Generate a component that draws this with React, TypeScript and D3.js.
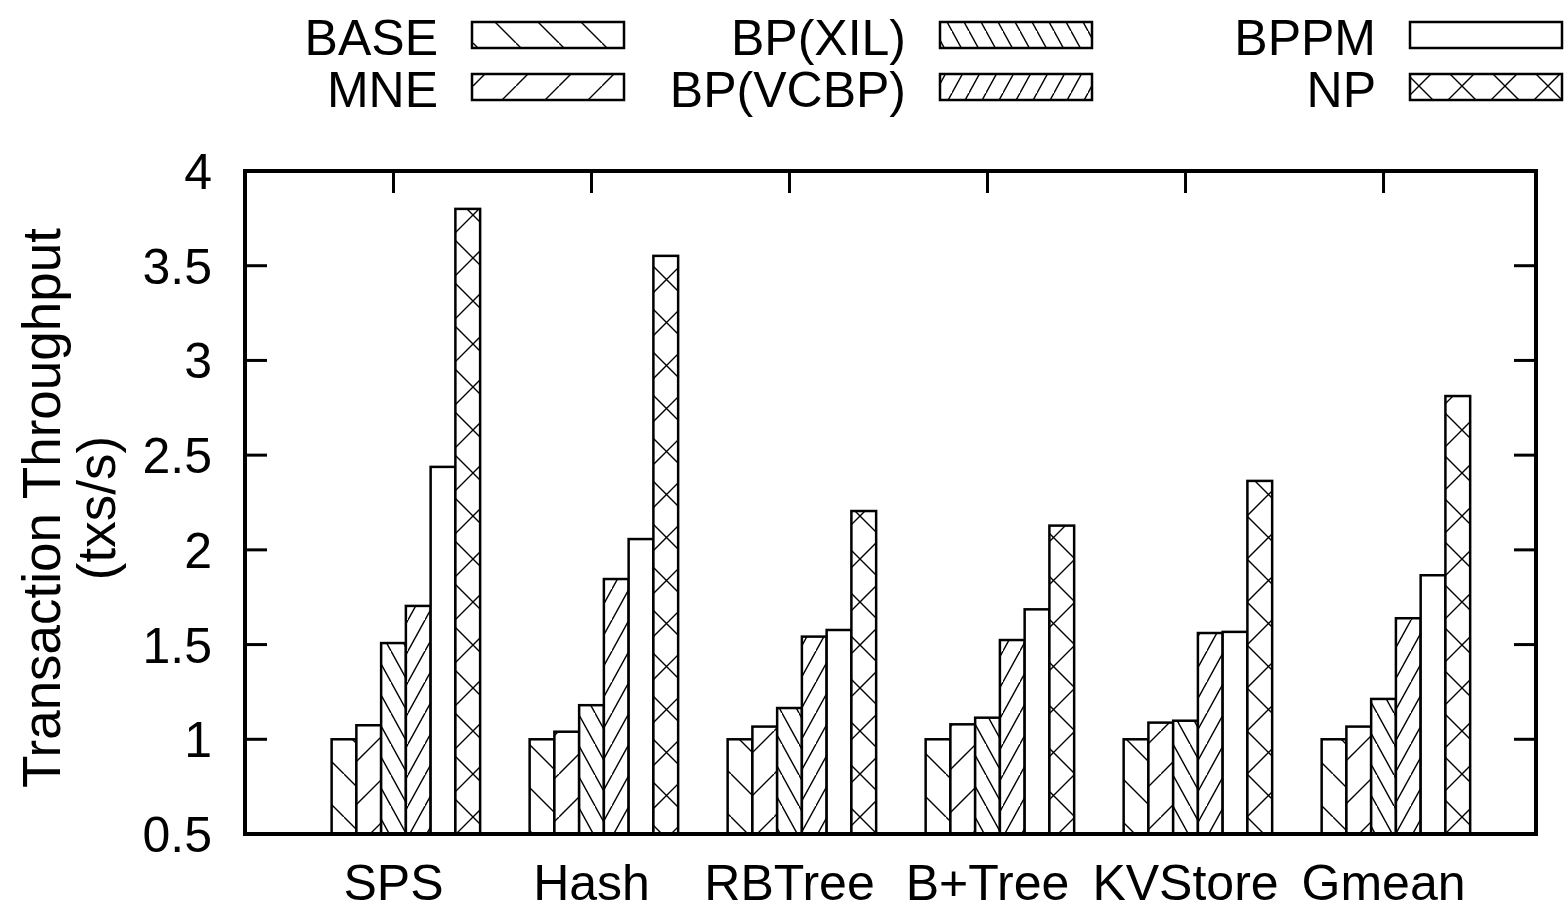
import * as d3 from 'd3';

// benchmarks along the x axis
const categories = ['SPS', 'Hash', 'RBTree', 'B+Tree', 'KVStore', 'Gmean'];
const seriesNames = ['BASE', 'MNE', 'BP(XIL)', 'BP(VCBP)', 'BPPM', 'NP'];

// normalized throughput, one array per series (same order as categories)
const baseVals = [1.0, 1.0, 1.0, 1.0, 1.0, 1.0];
const mneVals = [1.074, 1.04, 1.067, 1.079, 1.088, 1.067];
const xilVals = [1.508, 1.18, 1.165, 1.114, 1.098, 1.213];
const vcbpVals = [1.704, 1.846, 1.542, 1.524, 1.561, 1.639];
const bppmVals = [2.438, 2.057, 1.577, 1.686, 1.567, 1.866];
const npVals = [3.8, 3.552, 2.205, 2.128, 2.364, 2.812];

const yTicks = [0.5, 1, 1.5, 2, 2.5, 3, 3.5, 4];

const seriesValues = [baseVals, mneVals, xilVals, vcbpVals, bppmVals, npVals];
const patternIds = ['p-back', 'p-fwd', 'p-back-steep', 'p-fwd-steep', '', 'p-cross'];

const W = 1568,
	H = 910;
const margin = { left: 245, right: 32, top: 171, bottom: 76 };
const font = 'Liberation Sans, Arial, sans-serif';

// one diagonal per tile; neighbour pieces so the joins are not thin
function backPath(w: number, h: number) {
	return `M0,0L${w},${h}M${-w},0L0,${h}M${w},${-h}L${2 * w},0`;
}
function fwdPath(w: number, h: number) {
	return `M0,${h}L${w},0M${-w},${h}L0,0M${w},${2 * h}L${2 * w},${h}`;
}

export default function App() {
	const innerRight = W - margin.right;
	const innerBottom = H - margin.bottom; // 834

	const xScale = d3.scaleLinear().domain([-0.75, 5.77]).range([margin.left, innerRight]);
	const yScale = d3.scaleLinear().domain([0.5, 4]).range([innerBottom, margin.top]);

	const slot = 0.125; // width of one bar in group units
	const barW = xScale(slot) - xScale(0);

	const fillFor = (k: number) => (patternIds[k] ? `url(#${patternIds[k]})` : 'white');

	const legendCols = [472, 940, 1410];
	const legendRows = [22, 74];

	return (
		<svg width={W} height={H} viewBox={`0 0 ${W} ${H}`} style={{ display: 'block', position: 'absolute', left: 0, top: 0 }}>
			<defs>
				<pattern id="p-back" patternUnits="userSpaceOnUse" width={43} height={43}>
					<path d={backPath(43, 43)} stroke="black" strokeWidth={1.4} fill="none" />
				</pattern>
				<pattern id="p-fwd" patternUnits="userSpaceOnUse" width={43} height={43}>
					<path d={fwdPath(43, 43)} stroke="black" strokeWidth={1.4} fill="none" />
				</pattern>
				<pattern id="p-back-steep" patternUnits="userSpaceOnUse" width={17} height={31}>
					<path d={backPath(17, 31)} stroke="black" strokeWidth={1.4} fill="none" />
				</pattern>
				<pattern id="p-fwd-steep" patternUnits="userSpaceOnUse" width={17} height={31}>
					<path d={fwdPath(17, 31)} stroke="black" strokeWidth={1.4} fill="none" />
				</pattern>
				<pattern id="p-cross" patternUnits="userSpaceOnUse" width={43} height={43}>
					<path d={backPath(43, 43) + fwdPath(43, 43)} stroke="black" strokeWidth={1.4} fill="none" />
				</pattern>
			</defs>
			<rect x={0} y={0} width={W} height={H} fill="white" />

			{/* legend */}
			<g fontFamily={font} fontSize={50}>
				{seriesNames.map((name, k) => {
					const col = Math.floor(k / 2);
					const row = k % 2;
					const bx = legendCols[col];
					const by = legendRows[row];
					return (
						<g key={name}>
							<text x={bx - 34} y={by + 33} textAnchor="end">
								{name}
							</text>
							<rect x={bx} y={by} width={152} height={26} fill="white" />
							<rect x={bx} y={by} width={152} height={26} fill={fillFor(k)} stroke="black" strokeWidth={2.5} />
						</g>
					);
				})}
			</g>

			{/* y ticks + labels */}
			<g fontFamily={font} fontSize={50}>
				{yTicks.map((t) => (
					<g key={t} transform={`translate(0, ${yScale(t)})`}>
						{t > 0.5 && t < 4 && (
							<>
								<line x1={margin.left} x2={margin.left + 22} stroke="black" strokeWidth={3} />
								<line x1={innerRight - 22} x2={innerRight} stroke="black" strokeWidth={3} />
							</>
						)}
						<text x={212} y={18} textAnchor="end">
							{String(t)}
						</text>
					</g>
				))}
			</g>

			{/* x ticks (top mirror) + labels */}
			<g fontFamily={font} fontSize={50}>
				{categories.map((c, i) => (
					<g key={c} transform={`translate(${xScale(i)}, 0)`}>
						<line y1={margin.top} y2={margin.top + 22} stroke="black" strokeWidth={3} />
						<line y1={innerBottom} y2={innerBottom - 22} stroke="black" strokeWidth={3} />
						<text y={900} textAnchor="middle">
							{c}
						</text>
					</g>
				))}
			</g>

			{/* bars */}
			<g>
				{categories.map((c, i) =>
					seriesValues.map((vals, k) => {
						const x0 = xScale(i + (k - 2) * slot - slot / 2);
						const y0 = yScale(vals[i]);
						return (
							<g key={`${c}-${k}`}>
								<rect x={x0} y={y0} width={barW} height={innerBottom - y0} fill="white" />
								<rect
									x={x0}
									y={y0}
									width={barW}
									height={innerBottom - y0}
									fill={fillFor(k)}
									stroke="black"
									strokeWidth={2.5}
								/>
							</g>
						);
					})
				)}
			</g>

			{/* frame */}
			<rect
				x={margin.left}
				y={margin.top}
				width={innerRight - margin.left}
				height={innerBottom - margin.top}
				fill="none"
				stroke="black"
				strokeWidth={4}
			/>

			{/* y axis title */}
			<g fontFamily={font} fontSize={53} transform="translate(60, 508) rotate(-90)">
				<text x={0} y={0} textAnchor="middle">
					Transaction Throughput
				</text>
				<text x={0} y={55} textAnchor="middle">
					(txs/s)
				</text>
			</g>
		</svg>
	);
}
